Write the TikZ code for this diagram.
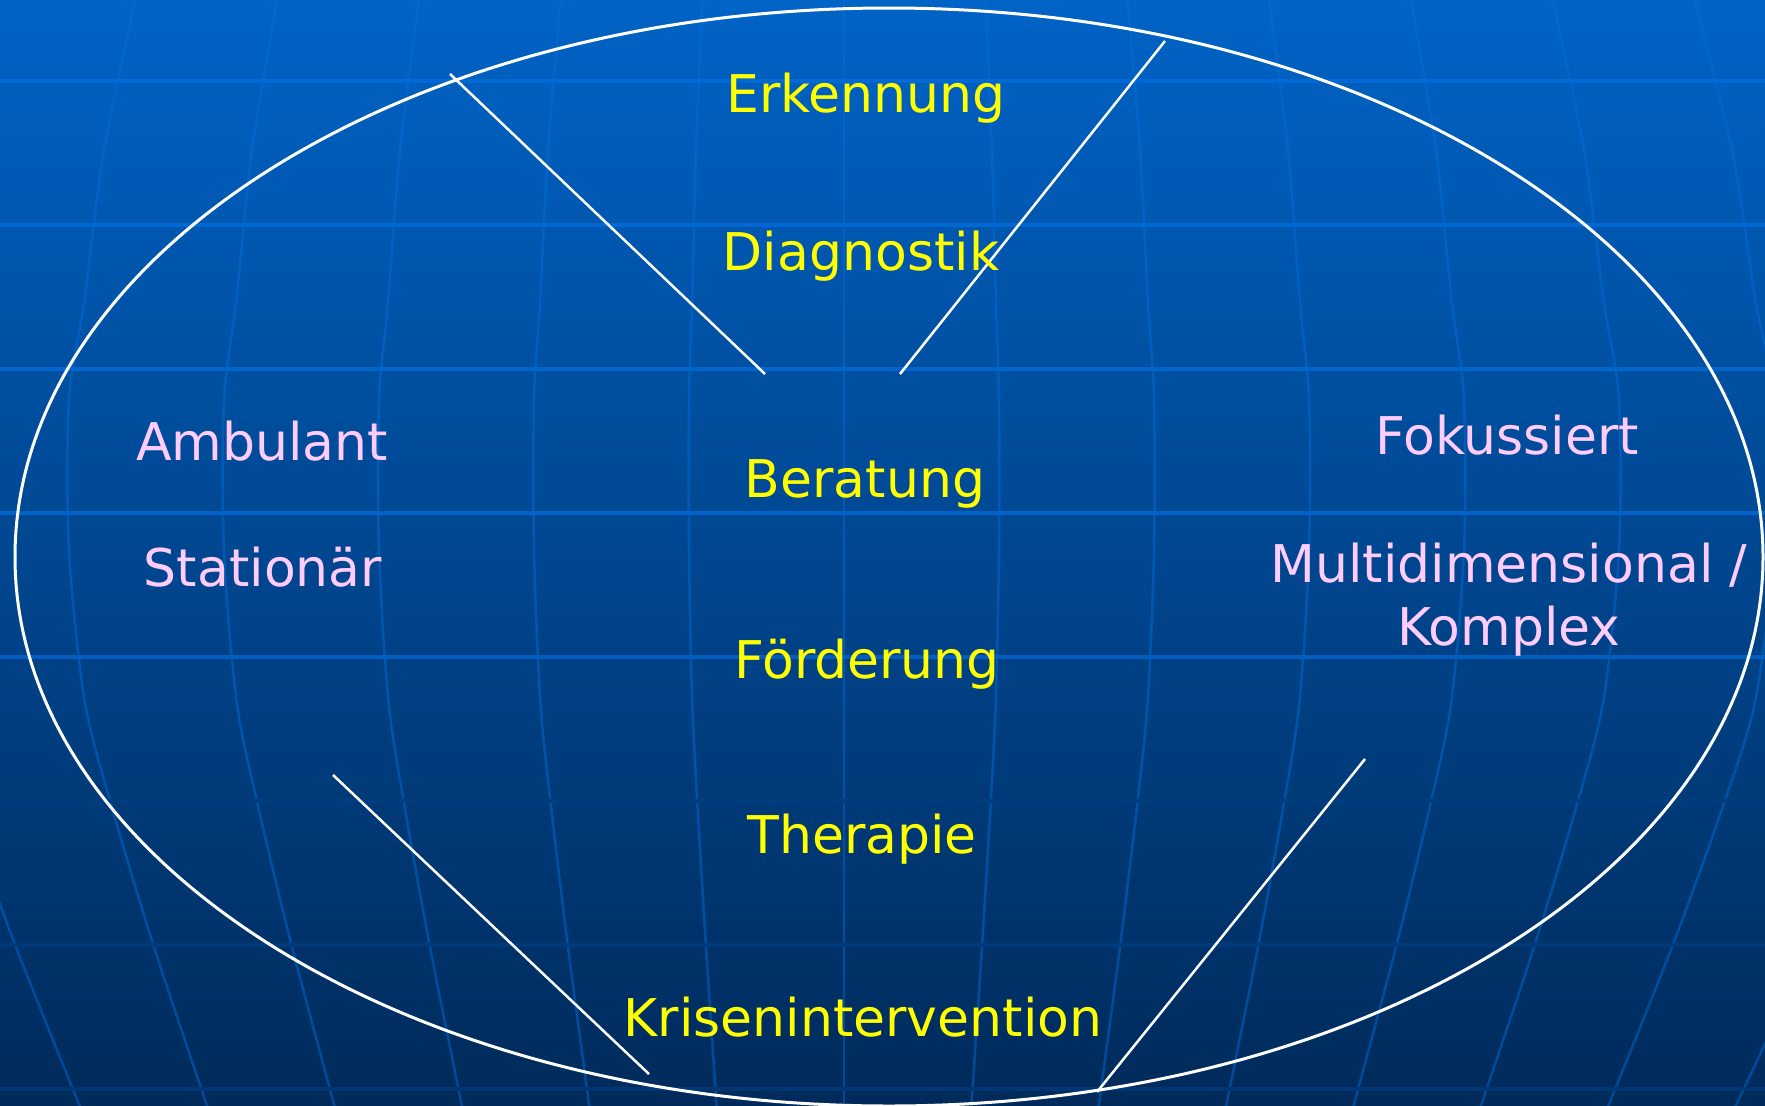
\documentclass[tikz,border=0pt]{standalone}
\usepackage{fontspec}
\setmainfont{DejaVu Sans}
\usetikzlibrary{shadings}
\definecolor{bgtop}{RGB}{0,99,198}
\definecolor{bgbot}{RGB}{0,42,90}
\definecolor{gridc}{RGB}{0,112,224}
\definecolor{txtyellow}{RGB}{255,255,0}
\definecolor{txtpink}{RGB}{255,204,255}
\begin{document}
\begin{tikzpicture}[x=1pt,y=-1pt,
  lbl/.style={inner sep=0pt, anchor=base, font=\fontsize{52}{63}\selectfont},
  yel/.style={lbl, text=txtyellow},
  pink/.style={lbl, text=txtpink},
  hline/.style={line width=4pt},
  mer/.style={draw=gridc, draw opacity=0.45, line width=2.5pt},
  wline/.style={white, line width=2.5pt},
  oval/.style={white, line width=3pt}]
\useasboundingbox (0,0) rectangle (1765,1106);
\clip (0,0) rectangle (1765,1106);
\shade[top color=bgtop, bottom color=bgbot] (0,0) rectangle (1765,1106);
% meridians
\foreach \k in {-7,...,7}{
  \draw[mer] plot[smooth] coordinates {
    (844+\k*141.5,-5) (844+\k*148.0,150) (844+\k*151.9,300) (844+\k*155,400)
    (844+\k*155,550) (844+\k*151.9,700) (844+\k*146.5,806) (844+\k*138.0,947)
    (844+\k*127.1,1110)};
}
% horizontal grid lines
\draw[hline, color={rgb,255:red,0;green,105;blue,212}] (0,81) -- (1765,81);
\draw[hline, color={rgb,255:red,0;green,104;blue,210}] (0,225) -- (1765,225);
\draw[hline, color={rgb,255:red,0;green,102;blue,206}] (0,369) -- (1765,369);
\draw[hline, color={rgb,255:red,0;green,99;blue,203}] (0,513) -- (1765,513);
\draw[hline, color={rgb,255:red,0;green,94;blue,194}] (0,657) -- (1765,657);
\draw[hline, color={rgb,255:red,0;green,61;blue,126}] (0,801) -- (1765,801);
\draw[hline, color={rgb,255:red,0;green,58;blue,122}] (0,945) -- (1765,945);
\draw[hline, color={rgb,255:red,0;green,54;blue,116}] (0,1089) -- (1765,1089);
% ellipse
\draw[oval] (889,557) ellipse [x radius=874pt, y radius=549pt];
% white lines
\coordinate (a1) at (450,74);  \coordinate (a2) at (765,374);
\coordinate (b1) at (1165,41); \coordinate (b2) at (900,374);
\coordinate (c1) at (333,775); \coordinate (c2) at (649,1074);
\coordinate (d1) at (1365,759);\coordinate (d2) at (1097,1092);
\draw[wline] (a1) -- (a2);
\draw[wline] (b1) -- (b2);
\draw[wline] (c1) -- (c2);
\draw[wline] (d1) -- (d2);
% texts
\node[yel] (erk) at (866,112) {Erkennung};
\node[yel] (dia) at (861,270) {Diagnostik};
\node[pink] (amb) at (262,460) {Ambulant};
\node[yel] (ber) at (865,497) {Beratung};
\node[pink] (fok) at (1507,454) {Fokussiert};
\node[pink] (sta) at (263,586) {Stationär};
\node[pink] (mul) at (1509,582) {\begin{tabular}[t]{@{}c@{}}Multidimensional /\\Komplex\end{tabular}};
\node[yel] (foe) at (867,678) {Förderung};
\node[yel] (the) at (862,853) {Therapie};
\node[yel] (kri) at (863,1036) {Krisenintervention};
\end{tikzpicture}
\end{document}
